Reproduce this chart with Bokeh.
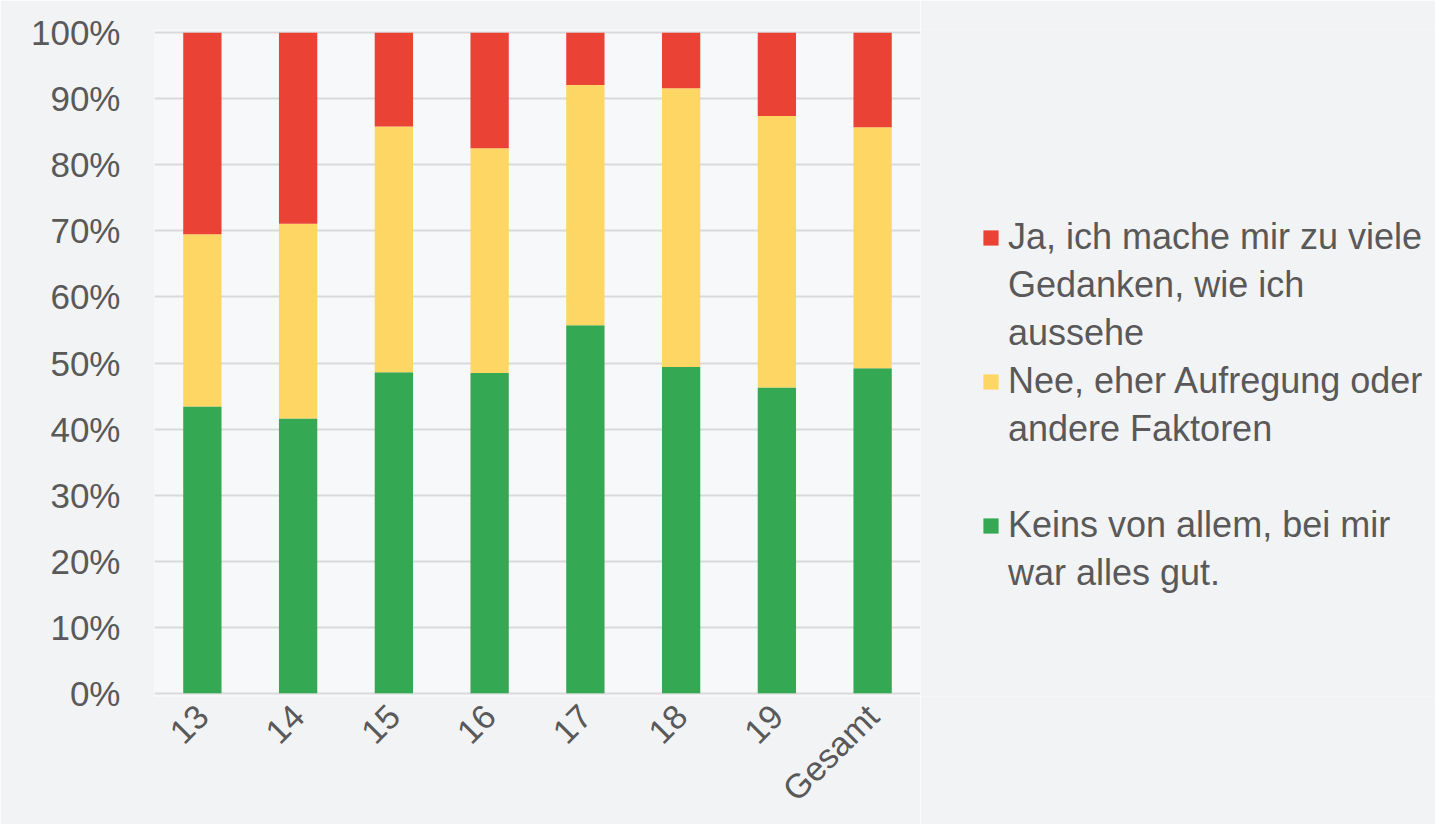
from bokeh.plotting import figure
from bokeh.layouts import row
from bokeh.models import Range1d, FactorRange, Legend, LegendItem, FixedTicker
from bokeh.embed import file_html
from bokeh.resources import INLINE

categories = ["13", "14", "15", "16", "17", "18", "19", "Gesamt"]
keins = [43.4, 41.6, 48.6, 48.5, 55.7, 49.4, 46.3, 49.2]
nee = [26.1, 29.5, 37.2, 34.0, 36.4, 42.2, 41.1, 36.5]
ja = [30.5, 28.9, 14.2, 17.5, 7.9, 8.4, 12.6, 14.3]
y_ticks = [0, 10, 20, 30, 40, 50, 60, 70, 80, 90, 100]
y_tick_labels = ["0%", "10%", "20%", "30%", "40%", "50%", "60%", "70%", "80%", "90%", "100%"]
series_names = ["keins", "nee", "ja"]
legend_lines = {
    "ja": ["Ja, ich mache mir zu viele", "Gedanken, wie ich", "aussehe"],
    "nee": ["Nee, eher Aufregung oder", "andere Faktoren"],
    "keins": ["Keins von allem, bei mir", "war alles gut."],
}
colors = ["#34a853", "#fdd663", "#ea4335"]

FONT = "Liberation Sans"
TXT = "#595959"
BG = "#f2f3f5"
NAN = float("nan")

# ---------------- main chart ----------------
p = figure(
    width=920, height=824,
    x_range=FactorRange(*categories, range_padding=0),
    y_range=Range1d(-0.5, 100.5),
    output_backend="svg", toolbar_location=None,
    min_border_left=154, min_border_right=0,
    min_border_top=29, min_border_bottom=128,
)
p.background_fill_color = "#f7f8fa"
p.border_fill_color = BG
p.outline_line_color = None

data = dict(x=categories, keins=keins, nee=nee, ja=ja)
p.vbar_stack(series_names, x="x", width=0.4, color=colors, source=data, line_color=None)

p.xgrid.grid_line_color = None
p.ygrid.grid_line_color = "#d9d9d9"
p.ygrid.grid_line_width = 2
p.yaxis.ticker = FixedTicker(ticks=y_ticks)
p.yaxis.major_label_overrides = {t: l for t, l in zip(y_ticks, y_tick_labels)}

for ax in (p.xaxis[0], p.yaxis[0]):
    ax.axis_line_color = None
    ax.major_tick_line_color = None
    ax.minor_tick_line_color = None
    ax.major_tick_in = 0
    ax.major_tick_out = 0
    ax.major_label_text_font = FONT
    ax.major_label_text_color = TXT
    ax.major_label_text_font_size = "35px"

p.yaxis.major_label_standoff = 34
p.xaxis.major_label_standoff = 14
p.xaxis.major_label_orientation = 0.785398
p.xaxis.major_label_text_font_size = "34px"

# ---------------- legend panel ----------------
lf = figure(
    width=515, height=824,
    x_range=Range1d(0, 1), y_range=Range1d(0, 1),
    output_backend="svg", toolbar_location=None,
    x_axis_location=None, y_axis_location=None,
    min_border_left=0, min_border_right=0, min_border_top=0, min_border_bottom=0,
)
lf.background_fill_color = BG
lf.border_fill_color = BG
lf.outline_line_color = None
lf.xgrid.grid_line_color = None
lf.ygrid.grid_line_color = None

# legend proxies (no visible marks: NaN data)
swatch = {}
for name, c in zip(series_names, colors):
    swatch[name] = lf.vbar(x=[NAN], top=[NAN], width=0.4, color=c, line_color=None)
blank = lf.vbar(x=[NAN], top=[NAN], width=0.4, fill_alpha=0, line_alpha=0)

items = []
for name in ["ja", "nee", "keins"]:
    lines = legend_lines[name]
    items.append(LegendItem(label=lines[0], renderers=[swatch[name]]))
    for extra in lines[1:]:
        items.append(LegendItem(label=extra, renderers=[blank]))
    if name == "nee":
        items.append(LegendItem(label=" ", renderers=[blank]))

lg = Legend(items=items, location=(61, 99))
lg.background_fill_alpha = 0
lg.border_line_color = None
lg.padding = 0
lg.margin = 0
lg.spacing = 0
lg.glyph_width = 19
lg.glyph_height = 19
lg.label_height = 48
lg.label_standoff = 8
lg.label_text_font = FONT
lg.label_text_font_size = "36px"
lg.label_text_color = TXT
lf.add_layout(lg, "center")

layout = row(p, lf, spacing=0)
open("out.html", "w").write(file_html(layout, INLINE))
